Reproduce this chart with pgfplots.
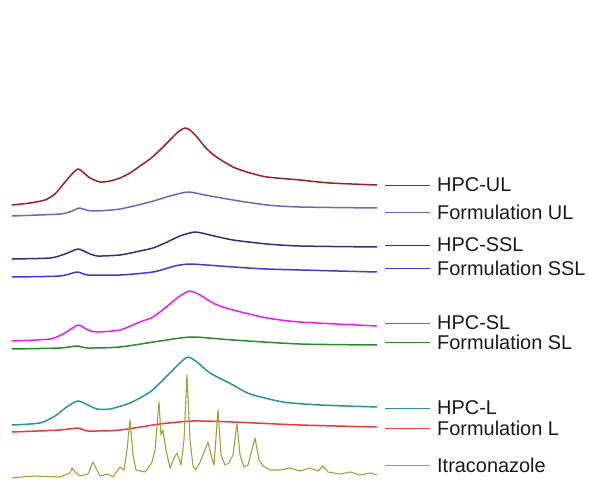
\documentclass[border=0pt]{standalone}
\usepackage{pgfplots}
\pgfplotsset{compat=1.18}
\usepackage{fontspec}
\setmainfont{Liberation Sans}
\definecolor{cUL}{RGB}{155,32,38}
\definecolor{cFUL}{RGB}{105,105,190}
\definecolor{cSSL}{RGB}{48,48,125}
\definecolor{cFSSL}{RGB}{60,60,210}
\definecolor{cSL}{RGB}{232,30,232}
\definecolor{cFSL}{RGB}{46,135,46}
\definecolor{cL}{RGB}{42,148,148}
\definecolor{cFL}{RGB}{232,58,58}
\definecolor{cITZ}{RGB}{160,160,60}
\begin{document}
\begin{tikzpicture}
\useasboundingbox (0,0) rectangle (589bp,480bp);
\begin{axis}[
  at={(12bp,0bp)}, anchor=south west,
  scale only axis, width=366bp, height=380bp,
  xmin=5, xmax=41.6, ymin=0, ymax=380,
  axis lines=none, clip=false,
  every axis plot/.append style={line width=1.5bp, line join=round},
]
% HPC-UL
\addplot[cUL, smooth, tension=0.4] coordinates {(5.0,275)(6.8,277)(8.3,280)(9.3,286)(10.3,298)(11.0,306)(11.6,311)(12.2,307)(12.8,302)(13.8,298)(14.8,299)(15.8,302)(16.8,307)(17.8,314)(18.8,321)(19.8,330)(20.8,340)(21.6,348)(22.3,352)(22.8,350)(23.5,343)(24.3,333)(25.3,324)(27.1,313)(28.8,307)(30.5,303)(33.8,300)(36.8,297)(41.5,295)};
% Formulation UL
\addplot[cFUL, smooth, tension=0.4] coordinates {(5.0,264)(9.8,266)(11.0,269)(11.7,272)(12.4,270)(13.3,269)(15.8,271)(18.8,278)(20.8,284)(22.6,288)(24.3,285)(27.1,280)(30.5,275)(33.8,273)(41.5,272)};
% HPC-SSL
\addplot[cSSL, smooth, tension=0.4] coordinates {(5.0,221)(8.8,222)(10.3,226)(11.6,231)(12.6,227)(13.5,224)(15.8,225)(17.8,229)(19.1,232)(20.3,237)(21.8,244)(23.3,248)(24.8,245)(27.1,240)(30.5,236)(33.8,234)(41.5,233)};
% Formulation SSL
\addplot[cFSSL, smooth, tension=0.4] coordinates {(5.0,203)(9.8,204)(11.5,208)(12.6,205)(15.8,205)(19.1,208)(21.3,214)(22.8,216)(25.8,214)(30.5,211)(41.5,208)};
% HPC-SL
\addplot[cSL, smooth, tension=0.4] coordinates {(5.0,139)(8.8,141)(10.3,147)(11.6,155)(12.6,150)(13.5,148)(15.8,150)(17.8,158)(19.1,163)(20.3,172)(21.8,184)(22.8,189)(23.8,185)(25.3,176)(27.1,170)(30.5,162)(33.8,158)(41.5,154)};
% Formulation SL
\addplot[cFSL, smooth, tension=0.4] coordinates {(5.0,131)(9.8,132)(11.5,134)(12.6,132)(15.8,133)(19.8,139)(23.0,143)(27.1,140)(33.8,136)(41.5,135)};
% HPC-L
\addplot[cL, smooth, tension=0.4] coordinates {(5.0,55)(7.8,57)(9.3,64)(10.6,74)(11.6,79)(12.6,75)(13.5,71)(14.8,71)(16.8,77)(18.8,88)(20.3,102)(21.8,117)(22.6,123)(23.5,118)(24.8,107)(27.1,95)(28.8,86)(32.1,78)(35.8,75)(41.5,73)};
% Formulation L
\addplot[cFL, smooth, tension=0.4] coordinates {(5.0,48)(9.8,50)(11.6,52)(12.6,49)(15.8,50)(19.8,56)(23.1,59)(27.1,58)(33.8,55)(41.5,53)};
% Itraconazole
\addplot[cITZ, line width=1.1bp] coordinates {(5.0,2)(7.1,4)(9.8,3)(10.8,7)(11.0,12)(11.3,8)(11.8,4)(12.6,6)(13.1,18)(13.5,10)(13.8,4)(14.6,6)(15.1,3)(15.8,13)(16.2,10)(16.5,30)(16.8,60)(17.1,25)(17.4,10)(18.3,8)(18.8,15)(19.0,18)(19.3,30)(19.7,78)(19.9,45)(20.1,50)(20.4,30)(20.8,12)(21.2,22)(21.5,27)(21.9,15)(22.2,40)(22.5,105)(22.8,40)(23.1,14)(23.4,10)(23.8,18)(24.3,30)(24.6,38)(24.9,25)(25.2,15)(25.6,70)(25.9,25)(26.3,15)(26.7,17)(27.1,25)(27.5,57)(27.8,25)(28.2,13)(28.6,15)(29.3,42)(29.7,20)(30.1,14)(30.8,10)(31.8,10)(32.8,12)(33.8,9)(34.8,12)(35.6,9)(36.1,14)(36.6,8)(37.8,6)(38.8,8)(39.8,5)(40.8,7)(41.5,5)};
% labels
\foreach \c/\y/\t in {cUL/295/HPC-UL, cFUL/268/Formulation UL, cSSL/235/HPC-SSL, cFSSL/212/Formulation SSL, cSL/157/HPC-SL, cFSL/138/Formulation SL, cL/72/HPC-L, cFL/52/Formulation L, cITZ/15/Itraconazole}{
  \edef\tmp{\noexpand\draw[\c, line width=0.7bp] (axis cs:42.3,\y) -- (axis cs:46.8,\y);
  \noexpand\node[anchor=west, inner sep=0pt, text=black!90] at (axis cs:47.5,\y) {\noexpand\fontsize{20}{22}\noexpand\selectfont \t};}
  \tmp
}
\end{axis}
\end{tikzpicture}
\end{document}
